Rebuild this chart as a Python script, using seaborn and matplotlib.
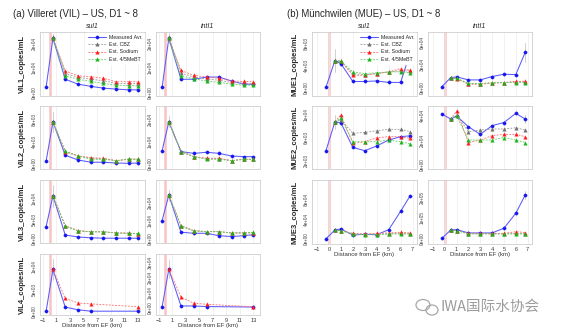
import matplotlib
matplotlib.use("Agg")
import matplotlib.pyplot as plt
import seaborn as sns
from matplotlib.patches import Ellipse

# ---------------- data ----------------
X_VIL_MEAS = [-0.5, 0.5, 2.3, 4.2, 6.1, 7.9, 9.8, 11.6, 12.9]
X_VIL_EST = [0.5, 2.3, 4.2, 6.1, 7.9, 9.8, 11.6, 12.9]
X_VIL4_MEAS = [-0.5, 0.5, 2.3, 4.2, 6.1, 12.9]
X_VIL4_EST = [0.5, 2.3, 4.2, 6.1, 12.9]
X_MUE_MEAS = [-0.25, 0.5, 1.0, 2, 3, 4, 5, 6, 6.8]
X_MUE_EST = [0.5, 1.0, 2, 3, 4, 5, 6, 6.8]
VIL_XTICKS = [-1, 1, 3, 5, 7, 9, 11, 13]
MUE_XTICKS = [-1, 0, 1, 2, 3, 4, 5, 6, 7]

SERIES_NAMES = ["Measured Avr.", "Est. CBZ", "Est. Sodium", "Est. 4/5MeBT"]

# VIL1
VIL1_SUL1_MEAS = [2200, 22000, 5300, 3300, 2400, 1700, 1300, 1000, 1000]
VIL1_SUL1_SD = [0, 1500, 0, 0, 0, 0, 0, 0, 0]
VIL1_SUL1_CBZ = [22500, 7600, 6100, 5300, 4700, 3600, 3500, 3500]
VIL1_SUL1_SODIUM = [22000, 8700, 6700, 6300, 5700, 4300, 4300, 4300]
VIL1_SUL1_MEBT = [22000, 6700, 5300, 4400, 3600, 2900, 2700, 2700]
VIL1_SUL1_YTICKS = [0, 10000, 20000]
VIL1_SUL1_YLIM = (-1500, 24500)

VIL1_INTI1_MEAS = [2000, 22000, 5300, 5300, 6200, 6200, 4600, 3300, 3300]
VIL1_INTI1_SD = [0, 2000, 0, 0, 0, 0, 0, 0, 0]
VIL1_INTI1_CBZ = [22500, 7800, 6200, 5400, 4900, 4000, 3700, 3600]
VIL1_INTI1_SODIUM = [22000, 8900, 6900, 6200, 5700, 4600, 4400, 4300]
VIL1_INTI1_MEBT = [22000, 6700, 5500, 4600, 4000, 3300, 2900, 2900]
VIL1_INTI1_YTICKS = [0, 10000, 20000]
VIL1_INTI1_YLIM = (-1500, 24500)

# VIL2
VIL2_SUL1_MEAS = [450, 7600, 1500, 600, 200, 200, 50, 0, 50]
VIL2_SUL1_SD = [0, 1900, 0, 0, 0, 0, 0, 0, 0]
VIL2_SUL1_CBZ = [7600, 2200, 1350, 900, 850, 480, 760, 760]
VIL2_SUL1_SODIUM = [7600, 2100, 1350, 1030, 920, 480, 740, 740]
VIL2_SUL1_MEBT = [7600, 2270, 1350, 740, 740, 480, 800, 740]
VIL2_SUL1_YTICKS = [0, 4000, 8000]
VIL2_SUL1_YLIM = (-1050, 10560)

VIL2_INTI1_MEAS = [5600, 18800, 5300, 4500, 5000, 4500, 3300, 3000, 3000]
VIL2_INTI1_SD = [0, 2500, 0, 0, 0, 0, 0, 0, 0]
VIL2_INTI1_CBZ = [18800, 5300, 3000, 2200, 2100, 1200, 1800, 1800]
VIL2_INTI1_SODIUM = [18800, 5300, 3000, 2300, 2300, 1200, 1800, 1800]
VIL2_INTI1_MEBT = [18800, 5300, 3000, 1800, 1800, 1200, 1800, 1800]
VIL2_INTI1_YTICKS = [0, 10000, 20000]
VIL2_INTI1_YLIM = (-2600, 26000)

# VIL3
VIL3_SUL1_MEAS = [3100, 10800, 1000, 500, 300, 200, 200, 200, 200]
VIL3_SUL1_SD = [0, 2700, 0, 0, 0, 0, 0, 0, 0]
VIL3_SUL1_CBZ = [10800, 3250, 2050, 1800, 1800, 1500, 1450, 1300]
VIL3_SUL1_SODIUM = [10800, 3300, 2100, 1800, 1800, 1500, 1500, 1250]
VIL3_SUL1_MEBT = [10800, 3200, 2000, 1800, 1800, 1500, 1400, 1400]
VIL3_SUL1_YTICKS = [0, 5000, 10000]
VIL3_SUL1_YLIM = (-1000, 14750)

VIL3_INTI1_MEAS = [10000, 24000, 3700, 3100, 3100, 1800, 1300, 1800, 2300]
VIL3_INTI1_SD = [0, 3000, 0, 0, 0, 0, 0, 0, 0]
VIL3_INTI1_CBZ = [24000, 7200, 4500, 4000, 4000, 3300, 3300, 3500]
VIL3_INTI1_SODIUM = [24000, 7300, 4500, 4000, 4000, 3300, 3300, 3300]
VIL3_INTI1_MEBT = [24000, 7000, 4400, 4000, 4000, 3300, 3300, 3600]
VIL3_INTI1_YTICKS = [0, 10000, 20000]
VIL3_INTI1_YLIM = (-2200, 32200)

# VIL4
VIL4_SUL1_MEAS = [200, 9400, 1100, 500, 200, 200]
VIL4_SUL1_SD = [0, 2300, 0, 0, 0, 0]
VIL4_SUL1_SODIUM = [9400, 3000, 2000, 1800, 1200]
VIL4_SUL1_YTICKS = [0, 5000, 10000]
VIL4_SUL1_YLIM = (-640, 12800)

VIL4_INTI1_MEAS = [300, 25400, 1000, 1000, 600, 300]
VIL4_INTI1_SD = [0, 5800, 0, 0, 0, 0]
VIL4_INTI1_SODIUM = [25400, 6900, 2800, 2100, 500]
VIL4_INTI1_YTICKS = [0, 10000, 20000, 30000]
VIL4_INTI1_YLIM = (-5000, 35500)

# MUE1
MUE1_SUL1_MEAS = [50, 4850, 4300, 1070, 1070, 1170, 900, 900, 6300]
MUE1_SUL1_SD = [0, 2150, 0, 0, 0, 0, 0, 0, 1500]
MUE1_SUL1_CBZ = [4850, 4800, 2500, 2300, 2500, 2800, 3000, 3000]
MUE1_SUL1_SODIUM = [4850, 4700, 2200, 2200, 2500, 2800, 3400, 3100]
MUE1_SUL1_MEBT = [4850, 4700, 2800, 2500, 2650, 2800, 2800, 2650]
MUE1_SUL1_YTICKS = [0, 4000, 8000]
MUE1_SUL1_YLIM = (-1550, 10010)

MUE1_INTI1_MEAS = [1000, 13000, 14000, 10000, 10000, 14500, 17500, 17000, 46500]
MUE1_INTI1_SD = [0, 0, 0, 0, 0, 0, 0, 0, 13000]
MUE1_INTI1_CBZ = [13000, 12000, 5000, 4800, 6000, 6500, 7500, 7500]
MUE1_INTI1_SODIUM = [13000, 11700, 4300, 4300, 5600, 6500, 8200, 8200]
MUE1_INTI1_MEBT = [13000, 12000, 5600, 5000, 6500, 6500, 6500, 6500]
MUE1_INTI1_YTICKS = [0, 30000, 60000]
MUE1_INTI1_YLIM = (-11300, 73400)

# MUE2
MUE2_SUL1_MEAS = [3650, 8800, 8600, 4250, 3650, 4500, 5550, 6150, 6300]
MUE2_SUL1_SD = [0, 1200, 0, 0, 0, 0, 0, 0, 0]
MUE2_SUL1_CBZ = [8800, 9200, 6750, 6900, 7200, 7450, 7450, 7050]
MUE2_SUL1_SODIUM = [8800, 10000, 4950, 5250, 5950, 6150, 6150, 5850]
MUE2_SUL1_MEBT = [8800, 9400, 5250, 5250, 5250, 5550, 5250, 4850]
MUE2_SUL1_YTICKS = [2000, 6000, 10000]
MUE2_SUL1_YLIM = (400, 11600)

MUE2_INTI1_MEAS = [40800, 36800, 39200, 30600, 24500, 31500, 34000, 41300, 36800]
MUE2_INTI1_SD = [0, 0, 0, 0, 0, 0, 0, 0, 3000]
MUE2_INTI1_CBZ = [36800, 40000, 26700, 28000, 28800, 28800, 29800, 28000]
MUE2_INTI1_SODIUM = [36800, 43200, 18000, 20000, 23500, 24500, 24500, 22700]
MUE2_INTI1_MEBT = [36800, 39200, 20000, 20000, 20000, 22000, 20000, 18000]
MUE2_INTI1_YTICKS = [0, 20000, 40000]
MUE2_INTI1_YLIM = (-3200, 47200)

# MUE3
MUE3_SUL1_MEAS = [500, 18000, 20000, 8000, 9400, 8600, 18600, 55400, 86600]
MUE3_SUL1_SD = [0, 0, 0, 0, 0, 0, 0, 0, 0]
MUE3_SUL1_CBZ = [18000, 16600, 10500, 9200, 9800, 10500, 11500, 11000]
MUE3_SUL1_SODIUM = [18000, 16600, 11400, 10000, 11400, 12000, 13400, 12000]
MUE3_SUL1_MEBT = [18000, 16600, 10000, 8600, 8600, 10000, 10000, 10000]
MUE3_SUL1_YTICKS = [0, 40000, 80000]
MUE3_SUL1_YLIM = (-10000, 118000)

MUE3_INTI1_MEAS = [1000, 41000, 43000, 27000, 27000, 27000, 50000, 123000, 212000]
MUE3_INTI1_SD = [0, 0, 0, 0, 0, 0, 0, 0, 20000]
MUE3_INTI1_CBZ = [41000, 38000, 23000, 23000, 23000, 23000, 25000, 24000]
MUE3_INTI1_SODIUM = [41000, 38000, 25000, 25000, 25000, 25000, 33000, 29000]
MUE3_INTI1_MEBT = [41000, 38000, 22000, 22000, 22000, 22000, 22000, 22000]
MUE3_INTI1_YTICKS = [0, 100000, 200000]
MUE3_INTI1_YLIM = (-27000, 285000)

# ---------------- styling ----------------
sns.set_style("white")
plt.rcParams['font.family'] = ['Liberation Sans', 'DejaVu Sans']

W, H = 569, 329
fig = plt.figure(figsize=(W / 100, H / 100), dpi=100)


def rect(x0, y0, x1, y1):
    return [x0 / W, 1 - y1 / H, (x1 - x0) / W, (y1 - y0) / H]


STYLES = {
    "Measured Avr.": dict(color="#1515f0", lc="#5a5aff", marker="o", ls="-", lw=0.75, ms=2.4),
    "Est. CBZ": dict(color="#6e6e6e", lc="#9a9a9a", marker="^", ls=(0, (2.2, 1.6)), lw=0.6, ms=2.6),
    "Est. Sodium": dict(color="#ff1a1a", lc="#ff6b6b", marker="^", ls=(0, (2.2, 1.6)), lw=0.6, ms=2.6),
    "Est. 4/5MeBT": dict(color="#19b319", lc="#5fd35f", marker="^", ls=(0, (2.2, 1.6)), lw=0.6, ms=2.6),
}


def draw_panel(ax, xm, meas, sd, xe, ests, ylim, yticks, xlim, xticks, bottom, legend=False):
    ax.set_facecolor("white")
    ax.axvline(0, color="#f6c4c4", lw=1.8, zorder=0.5)
    for xi, yi, si in zip(xm, meas, sd):
        if si > 0:
            ax.plot([xi, xi], [yi - si, yi + si], color="#c8c8c8", lw=0.6, zorder=1)
    series = [("Measured Avr.", xm, meas)] + [(n, xe, v) for n, v in ests]
    for name, xs, ys in series:
        st = STYLES[name]
        sns.lineplot(x=xs, y=ys, ax=ax, sort=False, errorbar=None, legend=False,
                     color=st["lc"], linewidth=st["lw"], linestyle=st["ls"],
                     marker=st["marker"], markersize=st["ms"],
                     markerfacecolor=st["color"], markeredgecolor=st["color"],
                     markeredgewidth=0.2, label=name, zorder=2)
    ax.set_xlim(*xlim)
    ax.set_ylim(*ylim)
    ax.set_xticks(xticks)
    ax.set_yticks(yticks)
    ax.set_yticklabels([f"{v:.0e}" for v in yticks], rotation=90, va="center", fontsize=3.3,
                       color="#444444")
    ax.grid(axis="x", color="#ebebeb", lw=0.5)
    ax.grid(axis="y", visible=False)
    for s in ax.spines.values():
        s.set_color("#cfcfcf")
        s.set_linewidth(0.6)
    ax.tick_params(axis="both", length=1.5, width=0.4, color="#888888", pad=1)
    ax.tick_params(axis="x", labelsize=4, labelcolor="#333333", pad=0.5)
    ax.set_ylabel("")
    if bottom:
        ax.set_xlabel("Distance from EF (km)", fontsize=4.3, labelpad=0.0, color="#333333")
    else:
        ax.set_xticklabels([])
        ax.set_xlabel("")
    if legend:
        ax.legend(loc="upper right", fontsize=3.8, frameon=True, framealpha=1,
                  facecolor="white", edgecolor="white", handlelength=3.4,
                  labelspacing=0.45, borderpad=0.35, borderaxespad=0.15,
                  handletextpad=0.6, numpoints=1)


VIL_XLIM = (-1.4, 14.0)
MUE_XLIM = (-1.42, 7.37)

LEFT_COLS = [(40, 145), (156, 260)]
LEFT_ROWS = [(32, 96), (106, 169), (180, 243), (254, 315)]
RIGHT_COLS = [(312, 417), (428, 532)]
RIGHT_ROWS = [(32, 96), (106, 169), (180, 244)]

vil_panels = [
    [(VIL1_SUL1_MEAS, VIL1_SUL1_SD, [("Est. CBZ", VIL1_SUL1_CBZ), ("Est. Sodium", VIL1_SUL1_SODIUM), ("Est. 4/5MeBT", VIL1_SUL1_MEBT)], VIL1_SUL1_YLIM, VIL1_SUL1_YTICKS),
     (VIL1_INTI1_MEAS, VIL1_INTI1_SD, [("Est. CBZ", VIL1_INTI1_CBZ), ("Est. Sodium", VIL1_INTI1_SODIUM), ("Est. 4/5MeBT", VIL1_INTI1_MEBT)], VIL1_INTI1_YLIM, VIL1_INTI1_YTICKS)],
    [(VIL2_SUL1_MEAS, VIL2_SUL1_SD, [("Est. CBZ", VIL2_SUL1_CBZ), ("Est. Sodium", VIL2_SUL1_SODIUM), ("Est. 4/5MeBT", VIL2_SUL1_MEBT)], VIL2_SUL1_YLIM, VIL2_SUL1_YTICKS),
     (VIL2_INTI1_MEAS, VIL2_INTI1_SD, [("Est. CBZ", VIL2_INTI1_CBZ), ("Est. Sodium", VIL2_INTI1_SODIUM), ("Est. 4/5MeBT", VIL2_INTI1_MEBT)], VIL2_INTI1_YLIM, VIL2_INTI1_YTICKS)],
    [(VIL3_SUL1_MEAS, VIL3_SUL1_SD, [("Est. CBZ", VIL3_SUL1_CBZ), ("Est. Sodium", VIL3_SUL1_SODIUM), ("Est. 4/5MeBT", VIL3_SUL1_MEBT)], VIL3_SUL1_YLIM, VIL3_SUL1_YTICKS),
     (VIL3_INTI1_MEAS, VIL3_INTI1_SD, [("Est. CBZ", VIL3_INTI1_CBZ), ("Est. Sodium", VIL3_INTI1_SODIUM), ("Est. 4/5MeBT", VIL3_INTI1_MEBT)], VIL3_INTI1_YLIM, VIL3_INTI1_YTICKS)],
]
for r, row in enumerate(vil_panels):
    for c, (meas, sd, ests, ylim, yt) in enumerate(row):
        ax = fig.add_axes(rect(LEFT_COLS[c][0], LEFT_ROWS[r][0], LEFT_COLS[c][1], LEFT_ROWS[r][1]))
        draw_panel(ax, X_VIL_MEAS, meas, sd, X_VIL_EST, ests, ylim, yt, VIL_XLIM, VIL_XTICKS,
                   bottom=False, legend=(r == 0 and c == 0))

vil4 = [(VIL4_SUL1_MEAS, VIL4_SUL1_SD, VIL4_SUL1_SODIUM, VIL4_SUL1_YLIM, VIL4_SUL1_YTICKS),
        (VIL4_INTI1_MEAS, VIL4_INTI1_SD, VIL4_INTI1_SODIUM, VIL4_INTI1_YLIM, VIL4_INTI1_YTICKS)]
for c, (meas, sd, sod, ylim, yt) in enumerate(vil4):
    ax = fig.add_axes(rect(LEFT_COLS[c][0], LEFT_ROWS[3][0], LEFT_COLS[c][1], LEFT_ROWS[3][1]))
    draw_panel(ax, X_VIL4_MEAS, meas, sd, X_VIL4_EST, [("Est. Sodium", sod)], ylim, yt,
               VIL_XLIM, VIL_XTICKS, bottom=True)

mue_panels = [
    [(MUE1_SUL1_MEAS, MUE1_SUL1_SD, [("Est. CBZ", MUE1_SUL1_CBZ), ("Est. Sodium", MUE1_SUL1_SODIUM), ("Est. 4/5MeBT", MUE1_SUL1_MEBT)], MUE1_SUL1_YLIM, MUE1_SUL1_YTICKS),
     (MUE1_INTI1_MEAS, MUE1_INTI1_SD, [("Est. CBZ", MUE1_INTI1_CBZ), ("Est. Sodium", MUE1_INTI1_SODIUM), ("Est. 4/5MeBT", MUE1_INTI1_MEBT)], MUE1_INTI1_YLIM, MUE1_INTI1_YTICKS)],
    [(MUE2_SUL1_MEAS, MUE2_SUL1_SD, [("Est. CBZ", MUE2_SUL1_CBZ), ("Est. Sodium", MUE2_SUL1_SODIUM), ("Est. 4/5MeBT", MUE2_SUL1_MEBT)], MUE2_SUL1_YLIM, MUE2_SUL1_YTICKS),
     (MUE2_INTI1_MEAS, MUE2_INTI1_SD, [("Est. CBZ", MUE2_INTI1_CBZ), ("Est. Sodium", MUE2_INTI1_SODIUM), ("Est. 4/5MeBT", MUE2_INTI1_MEBT)], MUE2_INTI1_YLIM, MUE2_INTI1_YTICKS)],
    [(MUE3_SUL1_MEAS, MUE3_SUL1_SD, [("Est. CBZ", MUE3_SUL1_CBZ), ("Est. Sodium", MUE3_SUL1_SODIUM), ("Est. 4/5MeBT", MUE3_SUL1_MEBT)], MUE3_SUL1_YLIM, MUE3_SUL1_YTICKS),
     (MUE3_INTI1_MEAS, MUE3_INTI1_SD, [("Est. CBZ", MUE3_INTI1_CBZ), ("Est. Sodium", MUE3_INTI1_SODIUM), ("Est. 4/5MeBT", MUE3_INTI1_MEBT)], MUE3_INTI1_YLIM, MUE3_INTI1_YTICKS)],
]
for r, row in enumerate(mue_panels):
    for c, (meas, sd, ests, ylim, yt) in enumerate(row):
        ax = fig.add_axes(rect(RIGHT_COLS[c][0], RIGHT_ROWS[r][0], RIGHT_COLS[c][1], RIGHT_ROWS[r][1]))
        draw_panel(ax, X_MUE_MEAS, meas, sd, X_MUE_EST, ests, ylim, yt, MUE_XLIM, MUE_XTICKS,
                   bottom=(r == 2), legend=(r == 0 and c == 0))

# ---------------- texts ----------------
fig.text(13 / W, 1 - 14 / H, "(a) Villeret (VIL) \u2013 US, D1 ~ 8", fontsize=6.9, va="center", ha="left")
fig.text(287 / W, 1 - 14 / H, "(b) M\u00fcnchwilen (MUE) \u2013 US, D1 ~ 8", fontsize=6.9, va="center", ha="left")

for (x0, x1), lab in zip(LEFT_COLS + RIGHT_COLS, ["sul1", "intI1", "sul1", "intI1"]):
    fig.text((x0 + x1) / 2 / W, 1 - 26 / H, lab, fontsize=5, style="italic", ha="center", va="center")

for (y0, y1), lab in zip(LEFT_ROWS, ["VIL1_copies/mL", "VIL2_copies/mL", "VIL3_copies/mL", "VIL4_copies/mL"]):
    fig.text(22 / W, 1 - (y0 + y1) / 2 / H, lab, rotation=90, fontsize=5.5, fontweight="bold",
             ha="center", va="center")
for (y0, y1), lab in zip(RIGHT_ROWS, ["MUE1_copies/mL", "MUE2_copies/mL", "MUE3_copies/mL"]):
    fig.text(295 / W, 1 - (y0 + y1) / 2 / H, lab, rotation=90, fontsize=5.5, fontweight="bold",
             ha="center", va="center")

# watermark
fig.text(441 / W, 1 - 307 / H, "IWA国际水协会", fontsize=10.5, color="#9c9c9c",
         family=["Noto Sans CJK SC", "DejaVu Sans"], ha="left", va="center")
wm = fig.add_axes([0, 0, 1, 1], zorder=-1)
wm.set_xlim(0, W)
wm.set_ylim(H, 0)
wm.axis("off")
wm.add_patch(Ellipse((423, 305), 14, 11, fill=False, ec="#a8a8a8", lw=0.9))
wm.add_patch(Ellipse((432, 310), 12, 10, fill=False, ec="#a8a8a8", lw=0.9, fc="white"))

fig.savefig("out.png", dpi=100)
